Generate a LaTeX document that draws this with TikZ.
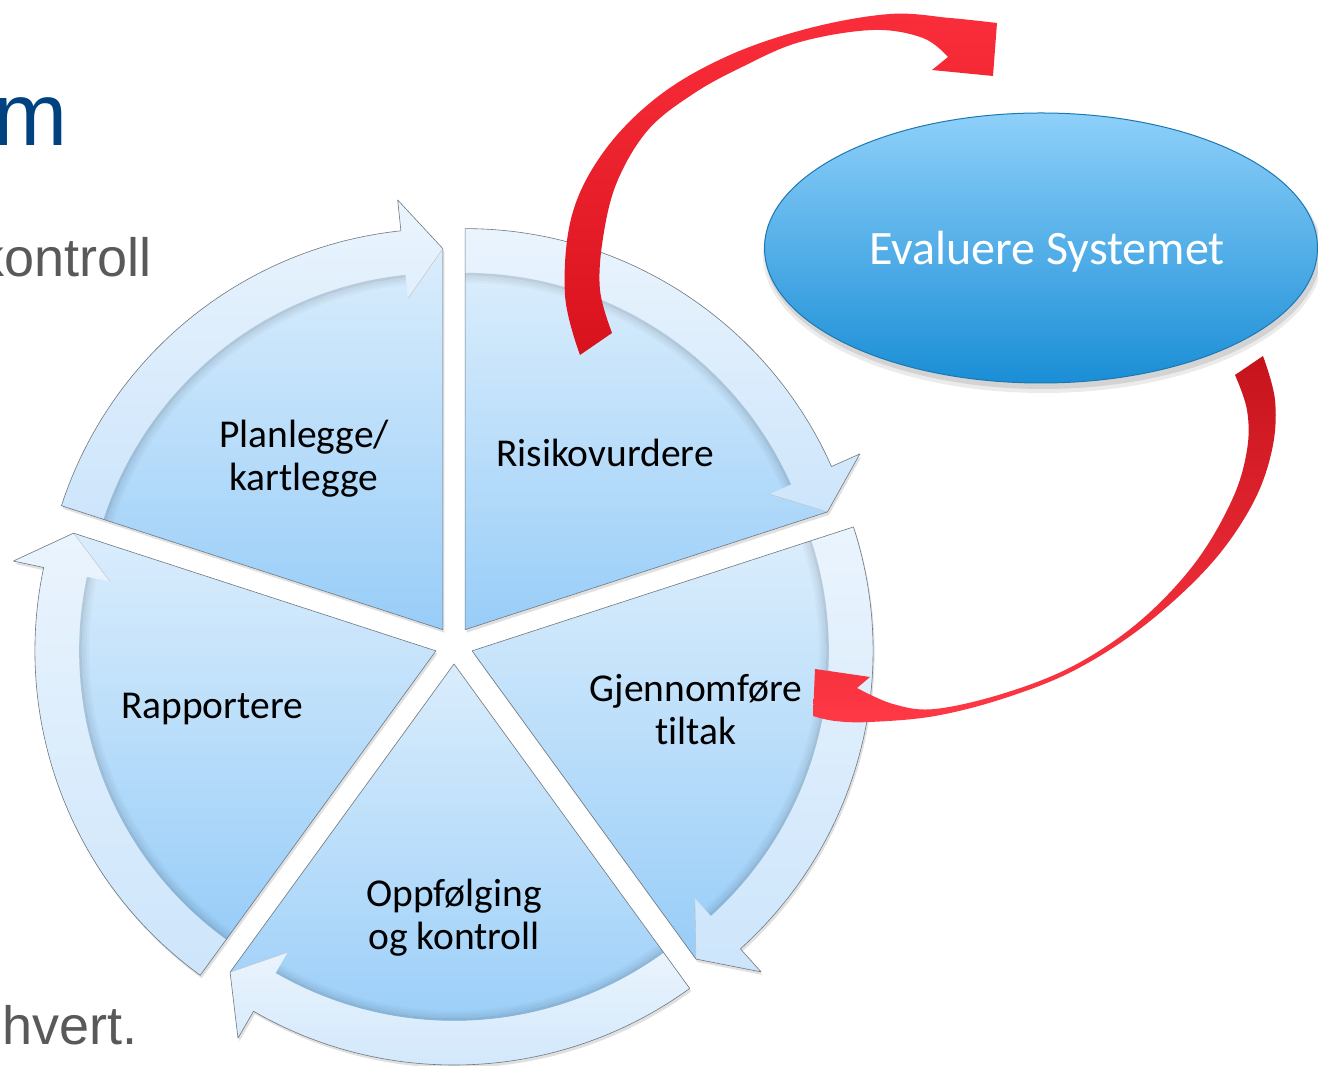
\documentclass[tikz,border=0pt]{standalone}
\usepackage{fontspec}
\setmainfont[Ligatures=NoCommon]{Carlito}
\newfontfamily\arialfont{Liberation Sans}
\usetikzlibrary{calc,shapes.geometric}
\definecolor{secTop}{HTML}{DAEDFC}
\definecolor{secBot}{HTML}{98CDF8}
\definecolor{bandTop}{HTML}{EAF4FD}
\definecolor{bandBot}{HTML}{CDE5FB}
\definecolor{edgeGray}{HTML}{6E7880}
\definecolor{titleBlue}{HTML}{00427F}
\definecolor{bodyGray}{HTML}{595959}
\definecolor{ellTop}{HTML}{8ED0FA}
\definecolor{ellBot}{HTML}{1A8ED6}
\definecolor{ellLine}{HTML}{1D78B2}
\definecolor{redA}{HTML}{FA2E3A}
\definecolor{redB}{HTML}{C6424B}
\definecolor{redC}{HTML}{D8121D}
\definecolor{redD}{HTML}{C5131C}
\definecolor{redE}{HTML}{FF3845}
\begin{document}
\begin{tikzpicture}[x=1pt,y=1pt,
  lbl/.style={font=\fontsize{39.5}{43}\selectfont, text=black, align=center, inner sep=0pt},
  evbox/.style={ellipse, minimum width=553pt, minimum height=270pt, inner sep=0pt,
    top color=ellTop, bottom color=ellBot, draw=ellLine, line width=1pt,
    text=white, font=\fontsize{48}{57}\selectfont, text height=34pt, text depth=0pt},
  slide/.style={inner sep=0pt, font=\arialfont\fontsize{54}{64}\selectfont, text=bodyGray}]
\useasboundingbox (0,0) rectangle (1318,1066);
\clip (0,0) rectangle (1318,1066);
\fill[white] (0,0) rectangle (1318,1066);

% slide text behind
\node[anchor=base east, inner sep=0pt, text=titleBlue, font=\arialfont\fontsize{89}{100}\selectfont] (ttl) at (68,920) {m};
\node[slide, anchor=base east] (body1) at (152,789) {kontroll};
\node[slide, anchor=base west] (body2) at (2,21) {hvert.};

\coordinate (C) at (454,421);
\foreach \b/\n in {126/pl,54/ri,-18/gj,-90/op,198/ra}{
  \pgfmathsetmacro\s{\b+36}
  \pgfmathsetmacro\e{\b-36}
  \pgfmathsetmacro\h{\e+6}
  \pgfmathsetmacro\ax{454+19*cos(\b)}
  \pgfmathsetmacro\ay{421+19*sin(\b)}
  \pgfmathsetmacro\bx{\ax+1.5}
  \pgfmathsetmacro\by{\ay-3}
  \coordinate (\n) at (\ax,\ay);
  % drop shadow
  \fill[black,opacity=0.12] (\bx,\by) -- ([shift={(\s:401)}]\bx,\by) arc[start angle=\s,end angle=\h,radius=401]
     -- ([shift={(\h:432)}]\bx,\by) -- ([shift={(\e:381)}]\bx,\by) -- cycle;
  % sector
  \path[top color=secTop,bottom color=secBot] (\ax,\ay) -- ([shift={(\s:357)}]\ax,\ay)
     arc[start angle=\s,end angle=\h,radius=357] -- ([shift={(\e:381)}]\ax,\ay) -- cycle;
  % inner shadow of the band
  \foreach \k/\o in {1.5/0.13,4/0.08,6.5/0.05,9/0.025}{
    \draw[black,opacity=\o,line width=2.5pt] ([shift={(\s:{357-\k})}]\ax,\ay)
       arc[start angle=\s,end angle=\h,radius={357-\k}];
  }
  % band arrow
  \path[top color=bandTop,bottom color=bandBot] ([shift={(\s:357)}]\ax,\ay) -- ([shift={(\s:401)}]\ax,\ay)
     arc[start angle=\s,end angle=\h,radius=401] -- ([shift={(\h:432)}]\ax,\ay)
     -- ([shift={(\e:381)}]\ax,\ay) -- ([shift={(\h:333)}]\ax,\ay) -- ([shift={(\h:357)}]\ax,\ay)
     arc[start angle=\h,end angle=\s,radius=357] -- cycle;
  \draw[black!25,line width=0.4pt,line join=round] ([shift={(\h:333)}]\ax,\ay) -- ([shift={(\e:381)}]\ax,\ay);
  % outline
  \draw[edgeGray,line width=0.6pt,line join=round] (\ax,\ay) -- ([shift={(\s:401)}]\ax,\ay)
     arc[start angle=\s,end angle=\h,radius=401] -- ([shift={(\h:432)}]\ax,\ay)
     -- ([shift={(\e:381)}]\ax,\ay) -- cycle;
}

% labels
\node[lbl] (plL) at (304,607) {Planlegge/\\kartlegge};
\node[lbl, anchor=base] (riL) at (605,599) {Risikovurdere};
\node[lbl] (gjL) at (696,356) {Gjennomføre\\tiltak};
\node[lbl] (opL) at (454,148) {Oppfølging\\og kontroll};
\node[lbl, anchor=base] (raL) at (212,347) {Rapportere};

% ellipse
\fill[black,opacity=0.10] (1043,813) ellipse[x radius=278, y radius=136];
\fill[black,opacity=0.08] (1043,811) ellipse[x radius=280, y radius=138];
\node[evbox] (ev) at (1041,818) {\hspace*{12pt}Evaluere Systemet};

% red arrow: Risikovurdere -> Evaluere Systemet
\coordinate (t1a) at (580,711);
\coordinate (t1b) at (612,733);
\shade[top color=redA, middle color=redB, bottom color=redC]
  plot[smooth,tension=0.6] coordinates {(t1a) (565,771) (572,851) (605,916) (660,971) (730,1011) (810,1038) (890,1052) (950,1048) (997,1043)}
  -- (993,990) -- (932,996)
  -- plot[smooth,tension=0.6] coordinates {(948,1009) (923,1028) (873,1036) (800,1024) (742,999) (693,972) (648,936) (617,884) (603,828) (600,776) (t1b)}
  -- cycle;

% red arrow: Evaluere Systemet -> Gjennomføre tiltak
\coordinate (t2a) at (1263,710);
\coordinate (t2b) at (1235,691);
\shade[top color=redD, middle color=redB, bottom color=redE]
  plot[smooth,tension=0.6] coordinates {(t2a) (1275,666) (1272,616) (1252,561) (1210,501) (1145,441) (1075,396) (1005,368) (935,350) (870,344) (835,345) (813,350)}
  -- (815,397) -- (870,389)
  -- plot[smooth,tension=0.6] coordinates {(857,378) (893,362) (935,357) (1005,373) (1075,401) (1140,445) (1195,503) (1232,566) (1247,616) (1247,656) (t2b)}
  -- cycle;
\end{tikzpicture}
\end{document}
